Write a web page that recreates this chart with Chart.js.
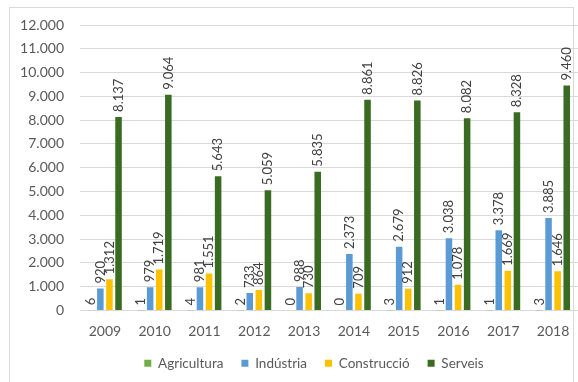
<!DOCTYPE html>
<html>
<head>
<meta charset="utf-8">
<script src="https://cdn.jsdelivr.net/npm/chart.js@4/dist/chart.umd.min.js"></script>
<style>
html,body{margin:0;padding:0;background:#fff;}
#wrap{width:578px;height:382px;position:relative;}
</style>
</head>
<body>
<div id="wrap"><canvas id="c" width="578" height="382"></canvas></div>
<script>
const years = ['2009','2010','2011','2012','2013','2014','2015','2016','2017','2018'];
const agricultura = [6,1,4,2,0,0,3,1,1,3];
const industria = [920,979,981,733,988,2373,2679,3038,3378,3885];
const construccio = [1312,1719,1551,864,730,709,912,1078,1669,1646];
const serveis = [8137,9064,5643,5059,5835,8861,8826,8082,8328,9460];
const seriesNames = ['Agricultura','Indústria','Construcció','Serveis'];
const yTicks = [0,1000,2000,3000,4000,5000,6000,7000,8000,9000,10000,11000,12000];

const FONT = 'Lato, "Liberation Sans", sans-serif';
function fmt(v){ return v.toString().replace(/\B(?=(\d{3})+(?!\d))/g,'.'); }

const frame = {
  id:'frame',
  beforeDraw(chart){
    const ctx = chart.ctx;
    ctx.save();
    ctx.fillStyle='#fff';
    ctx.fillRect(0,0,chart.width,chart.height);
    ctx.strokeStyle='#d9d9d9';
    ctx.lineWidth=1;
    ctx.strokeRect(9.5,7.5,564,390);
    ctx.restore();
  }
};

// shift legend to sit where the original has it
const legendShift = {
  id:'legendShift',
  afterLayout(chart){
    const lg = chart.legend;
    if (lg) { lg.left += 20; lg.right += 20; lg.top -= 2; lg.bottom -= 2; }
  }
};

const barLabels = {
  id:'barLabels',
  afterDatasetsDraw(chart){
    const ctx = chart.ctx;
    ctx.save();
    ctx.font = '13px ' + FONT;
    ctx.fillStyle = '#404040';
    ctx.textAlign = 'left';
    ctx.textBaseline = 'middle';
    chart.data.datasets.forEach((ds,i)=>{
      const meta = chart.getDatasetMeta(i);
      meta.data.forEach((el,j)=>{
        ctx.save();
        ctx.translate(el.x, el.y - 5);
        ctx.rotate(-Math.PI/2);
        ctx.fillText(fmt(ds.data[j]), 0, 0);
        ctx.restore();
      });
    });
    ctx.restore();
  }
};

new Chart(document.getElementById('c'), {
  type:'bar',
  data:{
    labels: years,
    datasets:[
      {label:seriesNames[0], data:agricultura, backgroundColor:'#70AD47'},
      {label:seriesNames[1], data:industria, backgroundColor:'#5B9BD5'},
      {label:seriesNames[2], data:construccio, backgroundColor:'#FFC000'},
      {label:seriesNames[3], data:serveis, backgroundColor:'#3A6B22'}
    ]
  },
  options:{
    responsive:false,
    animation:false,
    devicePixelRatio:1,
    layout:{padding:{left:10,right:0,top:25,bottom:0}},
    datasets:{bar:{categoryPercentage:0.73,barPercentage:0.72}},
    plugins:{
      legend:{
        position:'bottom',
        labels:{
          font:{family:FONT,size:13.5},
          color:'#595959',
          boxWidth:7,boxHeight:7,
          padding:18
        }
      },
      tooltip:{enabled:false}
    },
    scales:{
      x:{
        grid:{display:false},
        border:{color:'#d9d9d9'},
        ticks:{font:{family:FONT,size:14},color:'#595959',padding:5},
        afterFit(s){ s.height = 30; }
      },
      y:{
        min:0,max:12000,
        afterBuildTicks(s){ s.ticks = yTicks.map(v=>({value:v})); },
        grid:{color:'#d9d9d9',drawTicks:false},
        border:{display:false},
        ticks:{font:{family:FONT,size:14},color:'#595959',padding:16,
          callback:(v)=>fmt(v)},
        afterFit(s){ s.width = 70; }
      }
    }
  },
  plugins:[frame,legendShift,barLabels]
});
</script>
</body>
</html>
